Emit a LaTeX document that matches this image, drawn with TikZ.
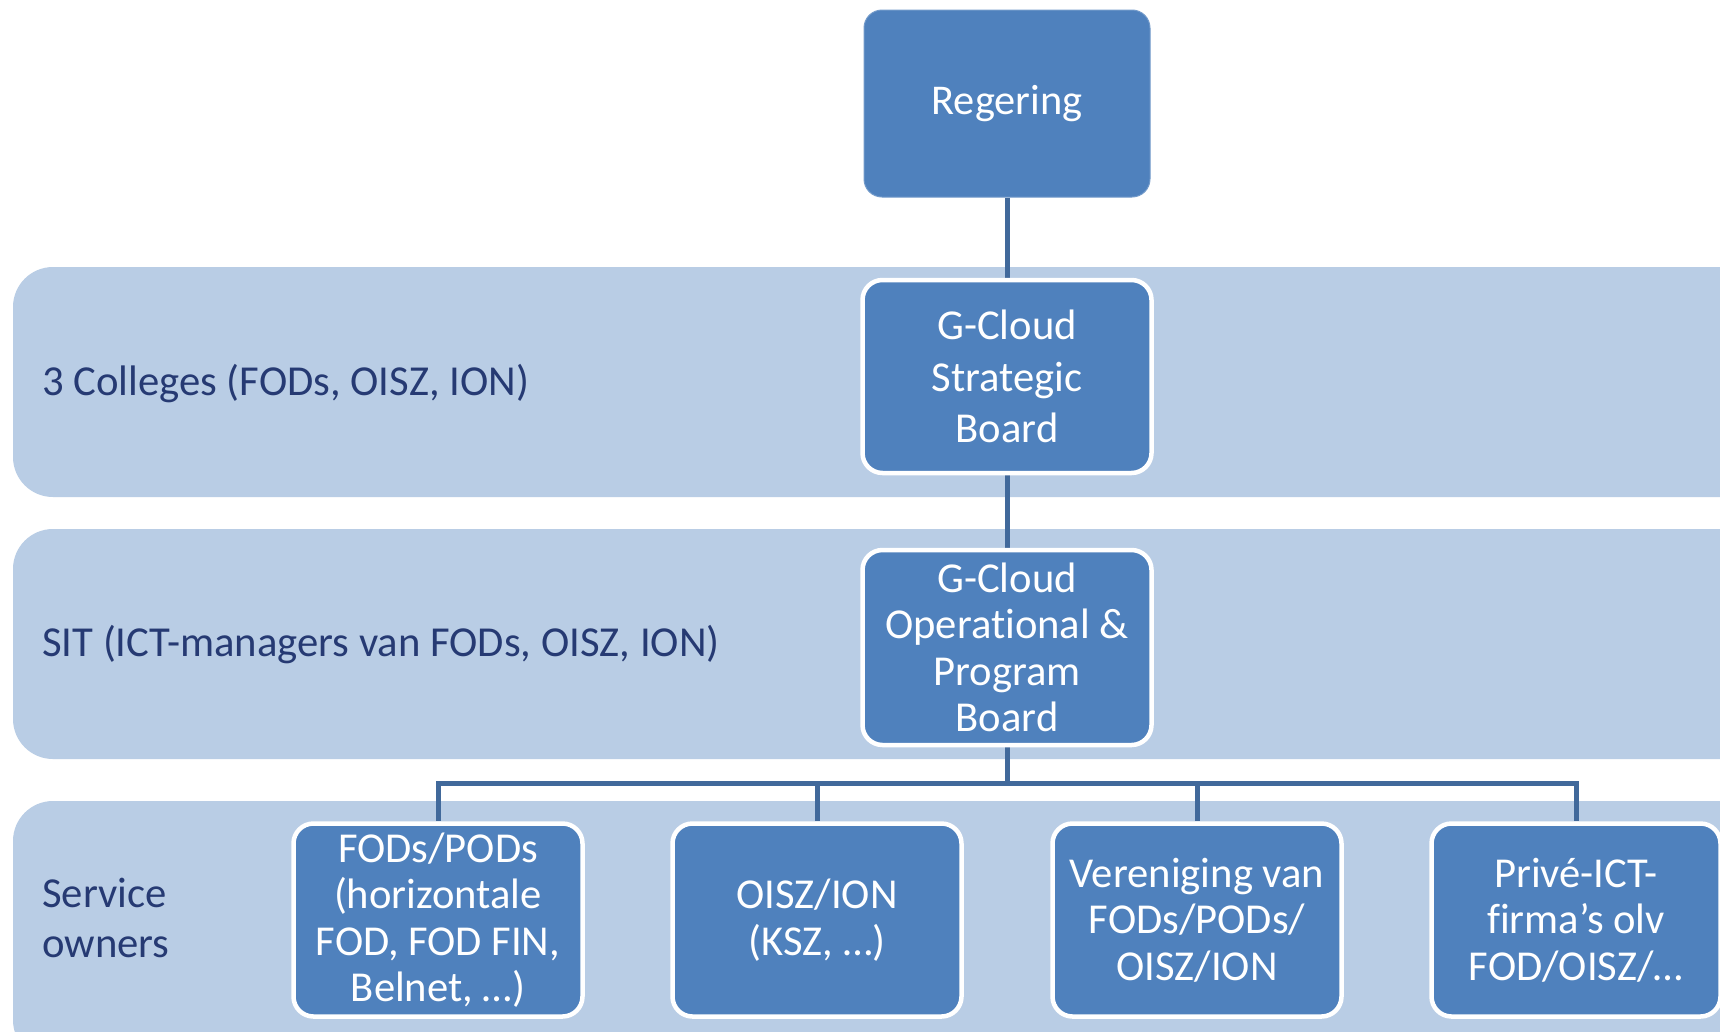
\documentclass[tikz,border=0pt]{standalone}
\usepackage{fontspec}
\setmainfont[Ligatures=NoCommon]{Carlito}
\definecolor{band}{HTML}{B9CDE5}
\definecolor{boxblue}{HTML}{4F81BD}
\definecolor{linkblue}{HTML}{41699B}
\definecolor{labelnavy}{HTML}{263A73}
\pgfdeclarelayer{bands}
\pgfdeclarelayer{links}
\pgfsetlayers{bands,links,main}
\begin{document}
\begin{tikzpicture}[x=1pt,y=-1pt,
  bandbox/.style={fill=band, draw=none, rounded corners=40pt},
  topbox/.style={rectangle, fill=boxblue, draw=boxblue!80!white, line width=1pt, rounded corners=18pt,
     minimum width=286pt, minimum height=187pt, text=white, align=center, inner sep=2pt,
     font=\fontsize{42.4}{51.6}\selectfont},
  orgbox/.style={rectangle, fill=boxblue, draw=white, line width=4.5pt, rounded corners=20pt,
     minimum width=289pt, minimum height=193pt, text=white, align=center, inner sep=1pt},
  bigtext/.style={font=\fontsize{42.6}{51.6}\selectfont},
  smalltext/.style={font=\fontsize{42.6}{46.4}\selectfont},
  bandlabel/.style={anchor=west, text=labelnavy, align=left, inner sep=0pt, font=\fontsize{42.7}{50}\selectfont},
  link/.style={draw=linkblue, line width=5pt}]
\useasboundingbox (0,0) rectangle (1720,1031);
\clip (0,0) rectangle (1720,1031);
\begin{pgfonlayer}{bands}
\fill[white] (0,0) rectangle (1720,1031);
\path[bandbox] (13,267) rectangle (1760,497);
\path[bandbox] (13,529) rectangle (1760,759);
\path[bandbox] (13,801) rectangle (1760,1060);
\end{pgfonlayer}
% band labels
\node[bandlabel] (l1) at (42,384) {3 Colleges (FODs, OISZ, ION)};
\node[bandlabel] (l2) at (42,645) {SIT (ICT-managers van FODs, OISZ, ION)};
\node[bandlabel] (l3) at (42,918) {Service\\owners};
% boxes
\node[topbox] (reg) at (1007,103.5) {Regering};
\node[orgbox,bigtext] (sb) at (1007,376.5) {G-Cloud\\Strategic\\Board};
\node[orgbox,smalltext,minimum height=195pt] (op) at (1007,647.5) {G-Cloud\\Operational \&\\Program\\Board};
\node[orgbox,smalltext] (c1) at (438,920) {FODs/PODs\\(horizontale\\FOD, FOD FIN,\\Belnet, \dots)};
\node[orgbox,smalltext] (c2) at (817,920) {OISZ/ION\\(KSZ, \dots)};
\node[orgbox,smalltext] (c3) at (1197,920) {Vereniging van\\FODs/PODs/\\OISZ/ION};
\node[orgbox,smalltext] (c4) at (1576,920) {Privé-ICT-\\firma’s olv\\FOD/OISZ/\dots};
% connectors
\begin{pgfonlayer}{links}
\draw[link] (reg.south) -- (sb.north);
\draw[link] (sb.south) -- (op.north);
\coordinate (bus) at (1007,783);
\draw[link] (op.south) -- (bus) -| (c1.north);
\draw[link] (bus) -| (c2.north);
\draw[link] (bus) -| (c3.north);
\draw[link] (bus) -| (c4.north);
\end{pgfonlayer}
\end{tikzpicture}
\end{document}
